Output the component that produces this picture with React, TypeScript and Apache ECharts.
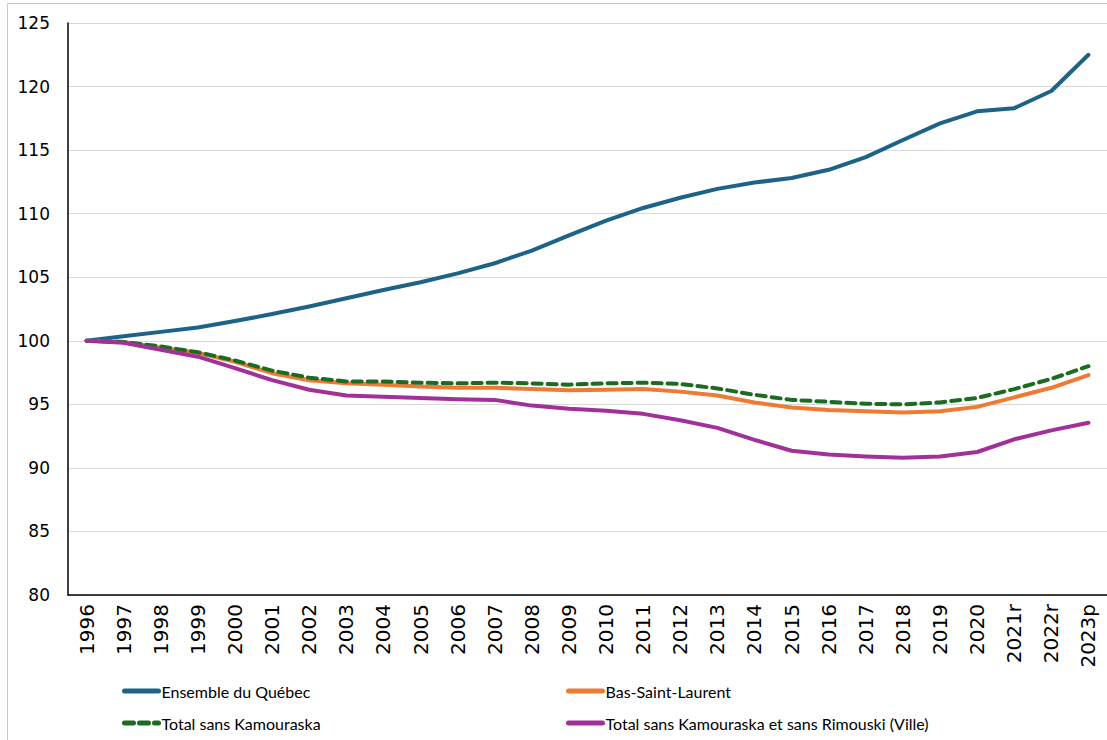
import React, { useEffect, useRef } from "react";
import * as echarts from "echarts";

const years = ["1996","1997","1998","1999","2000","2001","2002","2003","2004","2005","2006","2007","2008","2009","2010","2011","2012","2013","2014","2015","2016","2017","2018","2019","2020","2021r","2022r","2023p"];

const quebec = [100, 100.35, 100.7, 101.05, 101.55, 102.1, 102.7, 103.35, 104.0, 104.6, 105.3, 106.1, 107.1, 108.3, 109.45, 110.45, 111.25, 111.95, 112.45, 112.8, 113.45, 114.45, 115.8, 117.1, 118.05, 118.3, 119.65, 122.5];
const basSaintLaurent = [100, 99.9, 99.45, 99.05, 98.35, 97.45, 96.9, 96.65, 96.55, 96.4, 96.3, 96.3, 96.2, 96.1, 96.15, 96.2, 96.0, 95.7, 95.15, 94.75, 94.55, 94.45, 94.35, 94.45, 94.8, 95.55, 96.3, 97.3];
const sansKamouraska = [100, 99.9, 99.55, 99.1, 98.45, 97.65, 97.1, 96.8, 96.8, 96.7, 96.65, 96.7, 96.65, 96.55, 96.65, 96.7, 96.6, 96.25, 95.75, 95.35, 95.2, 95.05, 95.0, 95.15, 95.5, 96.2, 97.0, 98.0];
const sansKamouraskaRimouski = [100, 99.85, 99.3, 98.75, 97.85, 96.9, 96.15, 95.7, 95.6, 95.5, 95.4, 95.35, 94.9, 94.65, 94.5, 94.25, 93.75, 93.15, 92.2, 91.35, 91.05, 90.9, 90.8, 90.9, 91.25, 92.25, 92.95, 93.55];

const seriesNames = [
  "Ensemble du Québec",
  "Bas-Saint-Laurent",
  "Total sans Kamouraska",
  "Total sans Kamouraska et sans Rimouski (Ville)",
];

const legendFont = "Lato, 'Noto Sans', sans-serif";
const axisFont = "'DejaVu Sans', sans-serif";

export default function App() {
  const ref = useRef<HTMLDivElement>(null);
  useEffect(() => {
    if (!ref.current) return;
    const chart = echarts.init(ref.current, null, { renderer: "svg" });
    const legendBase = {
      orient: "horizontal",
      itemWidth: 34,
      itemHeight: 14,
      itemGap: 10,
      padding: 0,
      itemStyle: { opacity: 0 },
      lineStyle: { width: 5 },
      textStyle: { fontFamily: legendFont, fontSize: 16, color: "#000", padding: [0, 0, 0, -2] },
    };
    const mkLine = (name: string, data: number[], color: string, type: any) => ({
      name,
      type: "line",
      data,
      symbol: "none",
      smooth: false,
      lineStyle: { color, width: 4, type, cap: "round", join: "round" },
      itemStyle: { color },
    });
    chart.setOption({
      animation: false,
      backgroundColor: "#fff",
      grid: { left: 68, top: 23, right: 0, bottom: 145, containLabel: false },
      xAxis: {
        type: "category",
        data: years,
        boundaryGap: true,
        axisLine: { show: true, lineStyle: { color: "#000", width: 1.5 } },
        axisTick: { show: false },
        axisLabel: { rotate: 90, fontFamily: axisFont, fontSize: 20, color: "#000", margin: 9, interval: 0 },
        splitLine: { show: false },
      },
      yAxis: {
        type: "value",
        min: 80,
        max: 125,
        interval: 5,
        axisLine: { show: true, lineStyle: { color: "#000", width: 1.5 } },
        axisTick: { show: false },
        axisLabel: { fontFamily: axisFont, fontSize: 17, color: "#000", margin: 18 },
        splitLine: { show: true, lineStyle: { color: "#d9d9d9", width: 1 } },
      },
      legend: [
        { ...legendBase, left: 122, top: 683, data: [seriesNames[0]] },
        { ...legendBase, left: 566, top: 683, data: [seriesNames[1]] },
        { ...legendBase, left: 122, top: 715, data: [seriesNames[2]] },
        { ...legendBase, left: 566, top: 715, data: [seriesNames[3]] },
      ],
      graphic: [
        {
          type: "rect",
          shape: { x: 7.5, y: 3.5, width: 1110, height: 745 },
          style: { fill: "none", stroke: "#c8c8c8", lineWidth: 1 },
          silent: true,
          z: -1,
        },
      ],
      series: [
        mkLine(seriesNames[0], quebec, "#1d6388", "solid"),
        mkLine(seriesNames[1], basSaintLaurent, "#ee7a33", "solid"),
        mkLine(seriesNames[2], sansKamouraska, "#1c6b22", [9, 6]),
        mkLine(seriesNames[3], sansKamouraskaRimouski, "#a2309a", "solid"),
      ],
    });
    return () => chart.dispose();
  }, []);
  return (
    <div
      ref={ref}
      style={{ position: "absolute", left: 0, top: 0, width: 1107, height: 740 }}
    />
  );
}
